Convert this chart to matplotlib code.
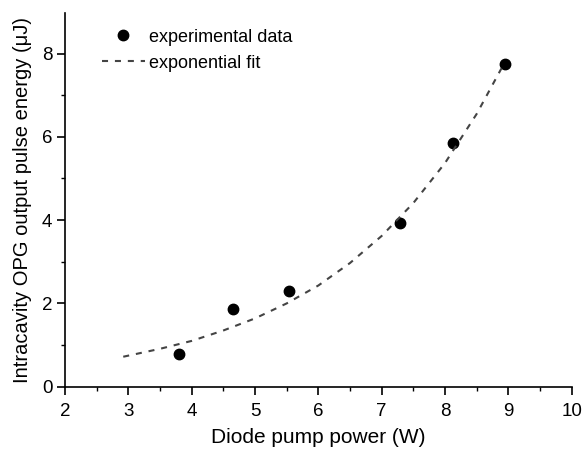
import matplotlib
matplotlib.use("Agg")
import matplotlib.pyplot as plt
from matplotlib.ticker import MultipleLocator

plt.rcParams['font.family'] = ['Liberation Sans', 'DejaVu Sans']

# experimental data
exp_x = [3.80, 4.66, 5.54, 7.29, 8.12, 8.95]
exp_y = [0.78, 1.86, 2.31, 3.92, 5.84, 7.76]

# exponential fit curve
fit_x = [2.92, 3.5, 4.0, 4.5, 5.0, 5.5, 6.0, 6.5, 7.0, 7.5, 8.0, 8.5, 8.89]
fit_y = [0.72, 0.91, 1.10, 1.35, 1.64, 2.00, 2.43, 2.97, 3.62, 4.41, 5.37, 6.55, 7.64]

x_ticks = [2, 3, 4, 5, 6, 7, 8, 9, 10]
y_ticks = [0, 2, 4, 6, 8]

fig = plt.figure(figsize=(5.87, 4.54), dpi=100)
ax = fig.add_axes([0.1107, 0.1482, 0.8632, 0.8238])

ax.plot(exp_x, exp_y, 'o', color='black', markersize=7.5, label='experimental data')
ax.plot(fit_x, fit_y, color='#444444', linewidth=1.5, linestyle=(0, (2.9, 3.3)),
        label='exponential fit')

ax.set_xlim(2, 10)
ax.set_ylim(0, 8.98)
ax.set_xticks(x_ticks)
ax.set_yticks(y_ticks)
ax.xaxis.set_minor_locator(MultipleLocator(0.5))
ax.yaxis.set_minor_locator(MultipleLocator(1))
ax.tick_params(which='major', direction='out', length=5.5, width=1.2, labelsize=13.5)
ax.tick_params(which='minor', direction='out', length=3, width=1.0)
ax.tick_params(axis='x', which='major', pad=6)
ax.tick_params(axis='y', which='major', pad=3.5)

for s in ['top', 'right']:
    ax.spines[s].set_visible(False)
for s in ['left', 'bottom']:
    ax.spines[s].set_linewidth(1.2)

ax.set_xlabel('Diode pump power (W)', fontsize=15, labelpad=6)
ax.set_ylabel('Intracavity OPG output pulse energy (μJ)', fontsize=14.5, labelpad=7)

ax.legend(loc='upper left', frameon=False, fontsize=13, handlelength=2.38,
          handletextpad=0.25, borderaxespad=0.0, labelspacing=0.5,
          bbox_to_anchor=(0.0582, 0.977))

fig.savefig('out.png', dpi=100)
